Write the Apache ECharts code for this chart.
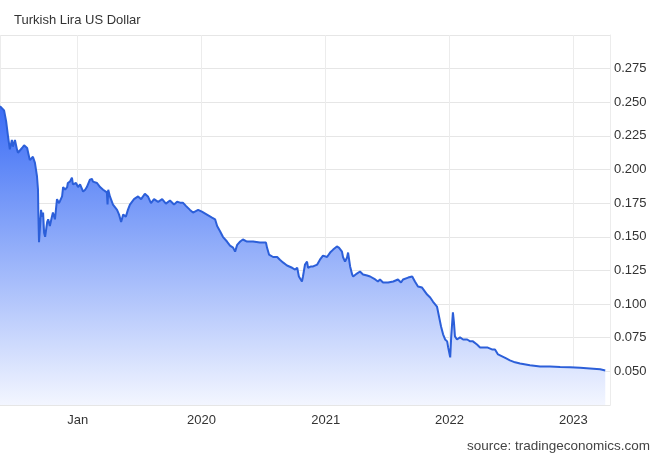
<!DOCTYPE html>
<html>
<head>
<meta charset="utf-8">
<script src="https://cdn.jsdelivr.net/npm/echarts@6/dist/echarts.min.js"></script>
<style>
html,body{margin:0;padding:0;background:#fff;}
#chart{width:663px;height:460px;}
</style>
</head>
<body>
<div id="chart"></div>
<script>
const titleText = 'Turkish Lira US Dollar';
const sourceText = 'source: tradingeconomics.com';
const xRange = ['2018-05-17', '2023-04-19'];
const yTicks = [0.025, 0.300, 0.025]; // min, max, step
const dates = [
'2018-05-17','2018-05-22','2018-05-29','2018-06-04','2018-06-10','2018-06-15','2018-06-21','2018-06-24','2018-06-30','2018-07-06',
'2018-07-09','2018-07-21','2018-07-27','2018-08-05','2018-08-08','2018-08-13','2018-08-22','2018-08-28','2018-09-03','2018-09-06',
'2018-09-07','2018-09-09','2018-09-15','2018-09-18','2018-09-21','2018-09-24','2018-09-27','2018-10-03','2018-10-06','2018-10-11',
'2018-10-17','2018-10-20','2018-10-26','2018-11-01','2018-11-07','2018-11-16','2018-11-19','2018-11-25','2018-12-01','2018-12-03',
'2018-12-09','2018-12-15','2018-12-18','2018-12-27','2019-01-02','2019-01-08','2019-01-17','2019-01-23','2019-01-28','2019-02-06',
'2019-02-12','2019-02-15','2019-02-27','2019-03-08','2019-03-17','2019-03-28','2019-03-30','2019-04-01','2019-04-06','2019-04-15',
'2019-04-27','2019-05-03','2019-05-09','2019-05-15','2019-05-23','2019-05-29','2019-06-04','2019-06-16','2019-06-28','2019-07-07',
'2019-07-18','2019-07-27','2019-08-05','2019-08-14','2019-08-26','2019-09-07','2019-09-18','2019-09-30','2019-10-12','2019-10-21',
'2019-10-30','2019-11-07','2019-11-16','2019-11-28','2019-12-07','2019-12-22','2020-01-02','2020-01-17','2020-02-01','2020-02-10',
'2020-02-16','2020-02-25','2020-03-04','2020-03-16','2020-03-25','2020-04-03','2020-04-09','2020-04-15','2020-04-24','2020-05-02',
'2020-05-14','2020-06-01','2020-06-21','2020-07-09','2020-07-12','2020-07-18','2020-07-30','2020-08-11','2020-08-19','2020-08-28',
'2020-09-09','2020-09-24','2020-10-03','2020-10-09','2020-10-14','2020-10-23','2020-10-26','2020-11-01','2020-11-07','2020-11-10',
'2020-11-19','2020-11-25','2020-12-07','2020-12-15','2020-12-24','2021-01-05','2021-01-14','2021-01-23','2021-02-03','2021-02-09',
'2021-02-18','2021-02-21','2021-02-27','2021-03-05','2021-03-08','2021-03-14','2021-03-20','2021-03-23','2021-04-03','2021-04-12',
'2021-04-21','2021-05-03','2021-05-12','2021-05-27','2021-06-04','2021-06-10','2021-06-19','2021-07-04','2021-07-19','2021-08-02',
'2021-08-11','2021-08-17','2021-09-01','2021-09-13','2021-09-21','2021-09-30','2021-10-12','2021-10-27','2021-11-05','2021-11-13',
'2021-11-25','2021-12-01','2021-12-07','2021-12-13','2021-12-19','2021-12-25','2021-12-28','2022-01-03','2022-01-06','2022-01-11',
'2022-01-14','2022-01-17','2022-01-23','2022-02-01','2022-02-10','2022-02-22','2022-03-03','2022-03-11','2022-03-23','2022-04-01',
'2022-04-10','2022-04-22','2022-05-06','2022-05-15','2022-05-24','2022-06-05','2022-06-17','2022-06-28','2022-07-13','2022-07-28',
'2022-08-26','2022-09-25','2022-10-24','2022-11-23','2022-12-22','2023-01-21','2023-02-19','2023-03-21','2023-04-05'
];
const values = [
0.247,0.248,0.244,0.236,0.224,0.215,0.222,0.217,0.222,0.215,
0.2125,0.216,0.218,0.216,0.2125,0.207,0.2095,0.205,0.195,0.185,
0.168,0.146,0.170,0.165,0.168,0.153,0.150,0.161,0.163,0.158,
0.165,0.168,0.163,0.178,0.175,0.180,0.187,0.185,0.187,0.190,
0.191,0.194,0.189,0.190,0.187,0.189,0.1836,0.185,0.187,0.1925,
0.193,0.191,0.190,0.187,0.185,0.183,0.174,0.185,0.180,0.174,
0.170,0.1665,0.161,0.1665,0.165,0.170,0.174,0.178,0.180,0.178,
0.182,0.180,0.175,0.178,0.176,0.178,0.1747,0.177,0.174,0.176,
0.1754,0.1754,0.173,0.170,0.168,0.170,0.1687,0.1665,0.1643,0.163,
0.158,0.154,0.150,0.1465,0.1435,0.142,0.139,0.144,0.1465,0.148,
0.1465,0.1465,0.1457,0.1457,0.142,0.1368,0.135,0.135,0.133,0.131,
0.1287,0.127,0.1257,0.127,0.1205,0.1168,0.1205,0.1294,0.1316,0.127,
0.128,0.128,0.1294,0.133,0.136,0.135,0.1383,0.1405,0.1428,0.142,
0.139,0.135,0.1316,0.1346,0.1383,0.128,0.122,0.1205,0.1227,0.1242,
0.122,0.1212,0.1205,0.1183,0.1168,0.1183,0.116,0.116,0.1168,0.1183,
0.116,0.1183,0.1197,0.1205,0.1168,0.1131,0.1123,0.1071,0.1049,0.1019,
0.0982,0.0908,0.0834,0.0775,0.0737,0.0723,0.0678,0.0604,0.076,0.0938,
0.0864,0.076,0.0737,0.0752,0.0737,0.0737,0.0723,0.0723,0.070,0.0678,
0.0678,0.0678,0.0663,0.0663,0.0626,0.0611,0.0596,0.0582,0.0567,0.0559,
0.0545,0.0537,0.0537,0.0533,0.053,0.0526,0.0522,0.0515,0.0507
];

const FONT = '"Liberation Sans", Arial, sans-serif';
const chart = echarts.init(document.getElementById('chart'), null, {renderer: 'canvas'});
const YEAR = 365 * 24 * 3600 * 1000;
chart.setOption({
  animation: false,
  backgroundColor: '#ffffff',
  title: {
    text: titleText, left: 9, top: 9,
    textStyle: {fontFamily: FONT, fontSize: 13, fontWeight: 'normal', color: '#333333'}
  },
  graphic: [{
    type: 'text', right: 13, top: 439,
    style: {text: sourceText, font: '13.5px ' + FONT, fill: '#444444'}
  }],
  grid: {left: 0, right: 53, top: 35, bottom: 55, containLabel: false},
  xAxis: {
    type: 'time',
    min: xRange[0], max: xRange[1],
    splitNumber: 5,
    minInterval: YEAR, maxInterval: YEAR + 24 * 3600 * 1000,
    axisLine: {show: true, lineStyle: {color: '#e6e6e6'}},
    axisTick: {show: false},
    splitLine: {show: true, lineStyle: {color: '#ececec', width: 1}},
    axisLabel: {
      color: '#333333', fontFamily: FONT, fontSize: 13, margin: 9,
      showMinLabel: false, showMaxLabel: false,
      formatter: function (v) {
        const d = new Date(v);
        const y = d.getFullYear();
        return y === 2019 ? 'Jan' : String(y);
      }
    }
  },
  yAxis: {
    type: 'value', position: 'right',
    min: yTicks[0], max: yTicks[1], interval: yTicks[2],
    axisLine: {show: true, lineStyle: {color: '#ececec'}},
    axisTick: {show: false},
    splitLine: {show: true, lineStyle: {color: '#e6e6e6', width: 1}},
    axisLabel: {
      color: '#333333', fontFamily: FONT, fontSize: 13, margin: 4,
      showMinLabel: false, showMaxLabel: false,
      formatter: function (v) { return v.toFixed(3); }
    }
  },
  series: [{
    type: 'line',
    data: dates.map((d, i) => [d, values[i]]),
    showSymbol: false,
    lineStyle: {color: '#2c5fd9', width: 2},
    itemStyle: {color: '#2c5fd9'},
    areaStyle: {
      opacity: 1,
      color: new echarts.graphic.LinearGradient(0, 0, 0, 1, [
        {offset: 0, color: '#3a6cf5'},
        {offset: 1, color: '#f3f6ff'}
      ])
    }
  }]
});
</script>
</body>
</html>
